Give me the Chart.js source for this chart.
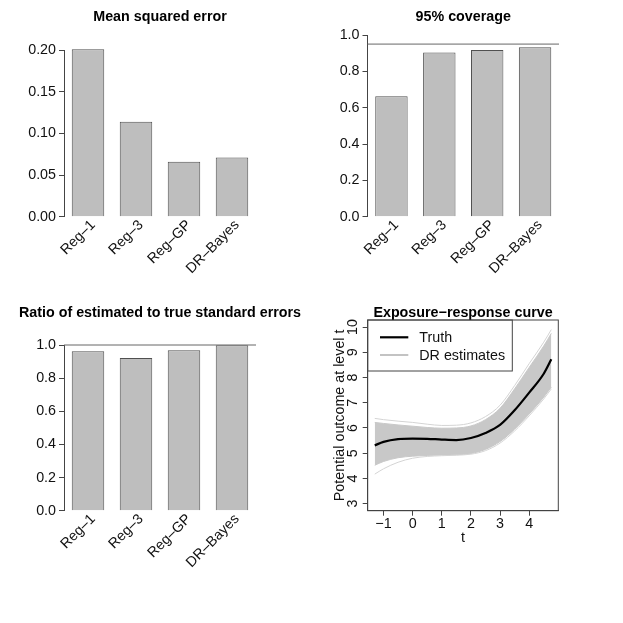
<!DOCTYPE html>
<html>
<head>
<meta charset="utf-8">
<script src="https://cdn.jsdelivr.net/npm/chart.js@4.4.1/dist/chart.umd.min.js"></script>
<style>
  html, body { margin: 0; padding: 0; background: #fff; }
  #wrap { position: relative; width: 623px; height: 623px; }
  #wrap canvas { position: absolute; left: 0; top: 0; }
</style>
</head>
<body>
<div id="wrap">
  <canvas id="c1" width="623" height="623"></canvas>
  <canvas id="c2" width="623" height="623"></canvas>
  <canvas id="c3" width="623" height="623"></canvas>
  <canvas id="c4" width="623" height="623"></canvas>
</div>
<script>
// ---------------- data ----------------
const methods = ['Reg\u20131', 'Reg\u20133', 'Reg\u2013GP', 'DR\u2013Bayes'];
const mseValues = [0.201, 0.114, 0.066, 0.071];
const coverageValues = [0.663, 0.903, 0.917, 0.932];
const seRatioValues = [0.962, 0.921, 0.968, 0.999];
const coverageTarget = 0.95;
const seRatioTarget = 1.0;

const mseTicks = [0, 0.05, 0.10, 0.15, 0.20];
const mseTickLabels = ['0.00', '0.05', '0.10', '0.15', '0.20'];
const unitTicks = [0, 0.2, 0.4, 0.6, 0.8, 1.0];
const unitTickLabels = ['0.0', '0.2', '0.4', '0.6', '0.8', '1.0'];

const tGrid        = [-1.3, -1.0, -0.5, 0.0, 0.5, 1.0, 1.5, 2.0, 2.5, 3.0, 3.5, 4.0, 4.5, 4.76];
const truthCurve   = [5.31, 5.45, 5.56, 5.58, 5.57, 5.54, 5.52, 5.60, 5.80, 6.12, 6.70, 7.40, 8.15, 8.72];
const drBandUpper  = [6.22, 6.18, 6.12, 6.07, 6.02, 5.99, 6.00, 6.08, 6.33, 6.78, 7.55, 8.40, 9.25, 9.75];
const drBandLower  = [4.52, 4.67, 4.82, 4.88, 4.91, 4.93, 4.94, 4.99, 5.15, 5.46, 5.95, 6.55, 7.22, 7.62];
const drEstHigh    = [6.38, 6.33, 6.27, 6.22, 6.15, 6.10, 6.11, 6.20, 6.45, 6.90, 7.68, 8.55, 9.40, 9.90];
const drEstLow     = [4.17, 4.38, 4.64, 4.80, 4.87, 4.90, 4.92, 4.96, 5.10, 5.40, 5.88, 6.48, 7.15, 7.55];

const tTicks = [-1, 0, 1, 2, 3, 4];
const tTickLabels = ['\u22121', '0', '1', '2', '3', '4'];
const outcomeTicks = [3, 4, 5, 6, 7, 8, 9, 10];
const outcomeTickLabels = ['3', '4', '5', '6', '7', '8', '9', '10'];

// ---------------- style ----------------
const FONT = '"Liberation Sans", Arial, Helvetica, sans-serif';
const FS = 14.3;
const AXIS = '#444';
Chart.defaults.font.family = FONT;
Chart.defaults.font.size = FS;
Chart.defaults.color = '#111';
Chart.defaults.animation = false;

function pts(xs, ys) { return xs.map((x, i) => ({ x: x, y: ys[i] })); }

const panelTitle = {
  id: 'panelTitle',
  afterDraw(chart, args, opts) {
    const ctx = chart.ctx, ca = chart.chartArea;
    ctx.save();
    ctx.font = 'bold ' + FS + 'px ' + FONT;
    ctx.fillStyle = '#000';
    ctx.textAlign = 'center';
    ctx.textBaseline = 'middle';
    ctx.fillText(opts.text, (ca.left + ca.right) / 2, opts.y);
    ctx.restore();
  }
};

const refLine = {
  id: 'refLine',
  afterDatasetsDraw(chart, args, opts) {
    if (opts.value === undefined) return;
    const ctx = chart.ctx, ca = chart.chartArea;
    const y = chart.scales.y.getPixelForValue(opts.value);
    ctx.save();
    ctx.strokeStyle = '#666';
    ctx.lineWidth = 1;
    ctx.beginPath();
    ctx.moveTo(ca.left, y);
    ctx.lineTo(ca.right, y);
    ctx.stroke();
    ctx.restore();
  }
};

function makeBarChart(id, values, ticks, tickLabels, yMax, area, title, ref) {
  const yw = 60, xh = 95;
  new Chart(document.getElementById(id), {
    type: 'bar',
    data: {
      labels: methods,
      datasets: [{
        data: values,
        backgroundColor: '#bebebe',
        borderColor: '#505050',
        borderWidth: 1,
        barPercentage: 0.677,
        categoryPercentage: 1.0,
        clip: false
      }]
    },
    options: {
      responsive: false,
      devicePixelRatio: 1,
      layout: {
        padding: {
          left: area.left - yw,
          right: 623 - area.right,
          top: area.top,
          bottom: 623 - area.bottom - xh
        }
      },
      plugins: {
        legend: { display: false },
        tooltip: { enabled: false },
        panelTitle: { text: title.text, y: title.y },
        refLine: { value: ref }
      },
      scales: {
        x: {
          grid: { display: false },
          border: { display: false },
          ticks: {
            autoSkip: false, minRotation: 45, maxRotation: 45,
            padding: -8, labelOffset: 5, color: '#111'
          },
          afterFit(s) { s.height = xh; }
        },
        y: {
          min: 0, max: yMax,
          afterBuildTicks(s) { s.ticks = ticks.map(v => ({ value: v })); },
          grid: { display: true, drawOnChartArea: false, drawTicks: true, tickLength: 5, color: AXIS, lineWidth: 1 },
          border: { display: true, color: AXIS, width: 1 },
          ticks: {
            padding: 3, color: '#111',
            callback: (v, i) => tickLabels[i]
          },
          afterFit(s) { s.width = yw; }
        }
      }
    },
    plugins: [panelTitle, refLine]
  });
}

makeBarChart('c1', mseValues, mseTicks, mseTickLabels, 0.20,
  { left: 64, right: 256, top: 50, bottom: 216.7 },
  { text: 'Mean squared error', y: 17 }, undefined);

makeBarChart('c2', coverageValues, unitTicks, unitTickLabels, 1.0,
  { left: 367.5, right: 559, top: 35, bottom: 216.7 },
  { text: '95% coverage', y: 17 }, coverageTarget);

makeBarChart('c3', seRatioValues, unitTicks, unitTickLabels, 1.0,
  { left: 64, right: 256, top: 345, bottom: 510.7 },
  { text: 'Ratio of estimated to true standard errors', y: 313 }, seRatioTarget);

// ---------------- exposure-response panel ----------------
const boxPlugin = {
  id: 'boxPlugin',
  afterDraw(chart) {
    const ctx = chart.ctx, ca = chart.chartArea;
    ctx.save();
    ctx.strokeStyle = AXIS;
    ctx.lineWidth = 1;
    ctx.strokeRect(ca.left, ca.top, ca.right - ca.left, ca.bottom - ca.top);
    ctx.restore();
  }
};

const boxLegend = {
  id: 'boxLegend',
  afterDatasetsDraw(chart) {
    const ctx = chart.ctx, ca = chart.chartArea;
    const items = chart.data.datasets.filter(d => d.legendEntry);
    ctx.save();
    ctx.font = FS + 'px ' + FONT;
    let maxW = 0;
    items.forEach(d => { maxW = Math.max(maxW, ctx.measureText(d.label).width); });
    const left = ca.left, top = ca.top;
    const w = 51.6 + maxW + 7.2, h = 51;
    ctx.fillStyle = '#fff';
    ctx.fillRect(left, top, w, h);
    ctx.strokeStyle = AXIS;
    ctx.lineWidth = 1;
    ctx.strokeRect(left, top, w, h);
    items.forEach((d, i) => {
      const y = top + 17.3 + i * 17.7;
      ctx.strokeStyle = d.legendColor || d.borderColor;
      ctx.lineWidth = d.legendWidth || d.borderWidth;
      ctx.beginPath();
      ctx.moveTo(left + 12.3, y);
      ctx.lineTo(left + 40.6, y);
      ctx.stroke();
      ctx.fillStyle = '#111';
      ctx.textAlign = 'left';
      ctx.textBaseline = 'middle';
      ctx.fillText(d.label, left + 51.6, y + 1);
    });
    ctx.restore();
  }
};

(function () {
  const area = { left: 367.7, right: 558.3, top: 320, bottom: 510.7 };
  const padLeft = 331, padBottom = 76.6;
  const lineDefaults = { pointRadius: 0, fill: false, cubicInterpolationMode: 'monotone' };
  new Chart(document.getElementById('c4'), {
    type: 'line',
    data: {
      datasets: [
        Object.assign({}, lineDefaults, {
          label: 'Truth', data: pts(tGrid, truthCurve),
          borderColor: '#000', borderWidth: 2.2, order: 0,
          legendEntry: true
        }),
        Object.assign({}, lineDefaults, {
          label: 'DR estimates', data: pts(tGrid, drEstHigh),
          borderColor: 'rgb(212,212,212)', borderWidth: 1, order: 5,
          legendEntry: true, legendColor: 'rgb(195,195,195)', legendWidth: 2
        }),
        Object.assign({}, lineDefaults, {
          label: 'DR estimate (low)', data: pts(tGrid, drEstLow),
          borderColor: 'rgb(212,212,212)', borderWidth: 1, order: 6
        }),
        Object.assign({}, lineDefaults, {
          label: 'DR band upper', data: pts(tGrid, drBandUpper),
          borderColor: 'rgb(200,200,200)', borderWidth: 1, order: 10,
          fill: '+1', backgroundColor: 'rgb(200,200,200)'
        }),
        Object.assign({}, lineDefaults, {
          label: 'DR band lower', data: pts(tGrid, drBandLower),
          borderColor: 'rgb(200,200,200)', borderWidth: 1, order: 11
        })
      ]
    },
    options: {
      responsive: false,
      devicePixelRatio: 1,
      layout: {
        padding: { left: padLeft, right: 623 - area.right, top: area.top, bottom: padBottom }
      },
      plugins: {
        legend: { display: false },
        tooltip: { enabled: false },
        panelTitle: { text: 'Exposure\u2212response curve', y: 313 }
      },
      scales: {
        x: {
          type: 'linear', min: -1.542, max: 5.0,
          afterBuildTicks(s) { s.ticks = tTicks.map(v => ({ value: v })); },
          grid: { display: true, drawOnChartArea: false, drawTicks: true, tickLength: 5, color: AXIS },
          border: { display: true, color: AXIS, width: 1 },
          ticks: { padding: 0, color: '#111', callback: (v, i) => tTickLabels[i], maxRotation: 0 },
          title: { display: true, text: 't', color: '#111', padding: 0 },
          afterFit(s) { s.height = 623 - padBottom - area.bottom; }
        },
        y: {
          type: 'linear', min: 2.72, max: 10.28,
          afterBuildTicks(s) { s.ticks = outcomeTicks.map(v => ({ value: v })); },
          grid: { display: true, drawOnChartArea: false, drawTicks: true, tickLength: 5, color: AXIS },
          border: { display: true, color: AXIS, width: 1 },
          ticks: {
            padding: 2, color: '#111', minRotation: 90, maxRotation: 90, crossAlign: 'center',
            callback: (v, i) => outcomeTickLabels[i]
          },
          title: { display: true, text: 'Potential outcome at level t', color: '#111', padding: 0 },
          afterFit(s) { s.width = area.left - padLeft; }
        }
      }
    },
    plugins: [panelTitle, boxPlugin, boxLegend]
  });
})();
</script>
</body>
</html>
